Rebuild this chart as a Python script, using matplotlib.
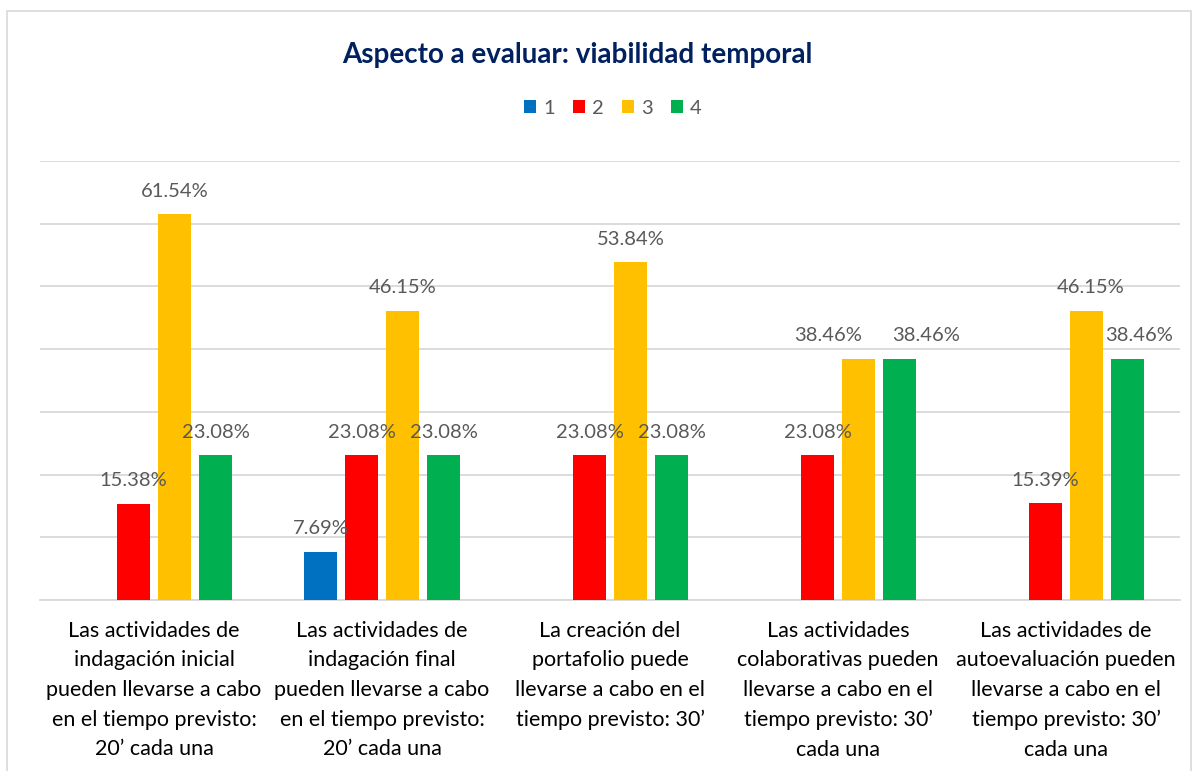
import matplotlib.pyplot as plt
import numpy as np
from matplotlib.patches import Rectangle

categorias = [
    "Las actividades de\nindagación inicial\npueden llevarse a cabo\nen el tiempo previsto:\n20’ cada una",
    "Las actividades de\nindagación final\npueden llevarse a cabo\nen el tiempo previsto:\n20’ cada una",
    "La creación del\nportafolio puede\nllevarse a cabo en el\ntiempo previsto: 30’",
    "Las actividades\ncolaborativas pueden\nllevarse a cabo en el\ntiempo previsto: 30’\ncada una",
    "Las actividades de\nautoevaluación pueden\nllevarse a cabo en el\ntiempo previsto: 30’\ncada una",
]
series = ["1", "2", "3", "4"]
valores_1 = [0, 7.69, 0, 0, 0]
valores_2 = [15.38, 23.08, 23.08, 23.08, 15.39]
valores_3 = [61.54, 46.15, 53.84, 38.46, 46.15]
valores_4 = [23.08, 23.08, 23.08, 38.46, 38.46]
colores = ["#0070C0", "#FF0000", "#FFC000", "#00B050"]

# desplazamiento horizontal (px) de algunas etiquetas para que no se pisen
desplaza = {(2, 3): -30, (3, 3): 27, (2, 4): 4, (3, 4): 12}

plt.rcParams['font.family'] = ['Lato', 'DejaVu Sans']

fig = plt.figure(figsize=(11.97, 7.71), dpi=100)
ax = fig.add_axes([40/1197, 1-600/771, 1140/1197, 439/771])

x = np.arange(len(categorias))
ancho = 0.145
paso = 0.18
datos = [valores_1, valores_2, valores_3, valores_4]
for i, (vals, col) in enumerate(zip(datos, colores)):
    pos = x + (i - 1.5) * paso
    ax.bar(pos, vals, width=ancho, color=col, label=series[i], zorder=3)
    for j, (p, v) in enumerate(zip(pos, vals)):
        if v > 0:
            dx = desplaza.get((i, j), 0) * 0.72
            ax.annotate(f"{v:.2f}%", (p, v), xytext=(dx, 12.5), textcoords='offset points',
                        ha='center', va='baseline', fontsize=14.5, color='#595959', zorder=4)

ax.set_xlim(-0.5, 4.5)
ax.set_ylim(0, 70)
ax.set_yticks(np.arange(0, 71, 10))
ax.set_yticklabels([])
ax.tick_params(axis='y', length=0)
ax.grid(axis='y', color='#D9D9D9', linewidth=1.3, zorder=0)
ax.set_xticks(x)
ax.set_xticklabels(categorias, fontsize=15.5, color='black', linespacing=1.6)
ax.tick_params(axis='x', length=0, pad=15)
for s in ['top', 'right', 'left']:
    ax.spines[s].set_visible(False)
ax.spines['bottom'].set_color('#D9D9D9')
ax.spines['bottom'].set_linewidth(1.3)

fig.text(577/1197, 1-55/771, "Aspecto a evaluar: viabilidad temporal", ha='center', va='center',
         fontsize=20, fontweight='bold', color='#002060')
leg = fig.legend(loc='center', bbox_to_anchor=(613/1197, 1-108/771), ncol=4, frameon=False,
                 fontsize=14.5, handlelength=0.6, handleheight=0.6, handletextpad=0.35,
                 columnspacing=0.9, labelcolor='#595959')

fig.patches.append(Rectangle((7/1197, -0.01), 1184/1197, 1 - 11/771 + 0.01, transform=fig.transFigure,
                             fill=False, edgecolor='#D9D9D9', linewidth=1.2))

fig.savefig('out.png', dpi=100)
